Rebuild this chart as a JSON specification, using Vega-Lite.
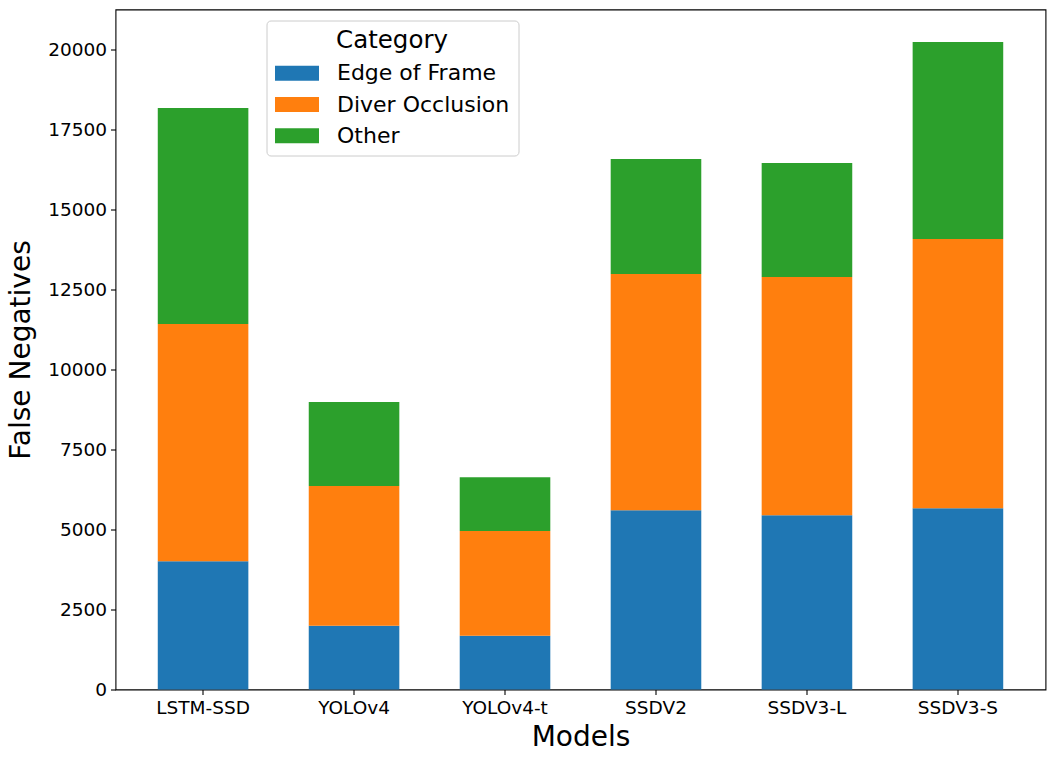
{
  "$schema": "https://vega.github.io/schema/vega-lite/v6.json",
  "width": 930,
  "height": 680,
  "autosize": {"type": "none"},
  "padding": {"left": 115.5, "top": 9.5, "right": 9.5, "bottom": 71.5},
  "background": "white",
  "config": {
    "font": "DejaVu Sans",
    "view": {"stroke": "black", "strokeWidth": 1.1},
    "axis": {
      "domain": false,
      "grid": false,
      "tickColor": "black",
      "tickWidth": 1.1,
      "tickSize": 5,
      "labelColor": "black",
      "labelFont": "DejaVu Sans",
      "labelFontSize": 18.5,
      "labelPadding": 4,
      "titleColor": "black",
      "titleFont": "DejaVu Sans",
      "titleFontSize": 28,
      "titleFontWeight": "normal"
    }
  },
  "data": {
    "values": [
      {"model": "LSTM-SSD", "category": "Edge of Frame", "count": 4010},
      {"model": "LSTM-SSD", "category": "Diver Occlusion", "count": 7406},
      {"model": "LSTM-SSD", "category": "Other", "count": 6750},
      {"model": "YOLOv4", "category": "Edge of Frame", "count": 1990},
      {"model": "YOLOv4", "category": "Diver Occlusion", "count": 4364},
      {"model": "YOLOv4", "category": "Other", "count": 2624},
      {"model": "YOLOv4-t", "category": "Edge of Frame", "count": 1677},
      {"model": "YOLOv4-t", "category": "Diver Occlusion", "count": 3271},
      {"model": "YOLOv4-t", "category": "Other", "count": 1686},
      {"model": "SSDV2", "category": "Edge of Frame", "count": 5603},
      {"model": "SSDV2", "category": "Diver Occlusion", "count": 7375},
      {"model": "SSDV2", "category": "Other", "count": 3594},
      {"model": "SSDV3-L", "category": "Edge of Frame", "count": 5447},
      {"model": "SSDV3-L", "category": "Diver Occlusion", "count": 7437},
      {"model": "SSDV3-L", "category": "Other", "count": 3563},
      {"model": "SSDV3-S", "category": "Edge of Frame", "count": 5666},
      {"model": "SSDV3-S", "category": "Diver Occlusion", "count": 8406},
      {"model": "SSDV3-S", "category": "Other", "count": 6156}
    ]
  },
  "transform": [
    {"calculate": "indexof(['Edge of Frame', 'Diver Occlusion', 'Other'], datum.category)", "as": "stack_order"}
  ],
  "mark": {"type": "bar", "strokeWidth": 0},
  "encoding": {
    "x": {
      "field": "model",
      "type": "nominal",
      "sort": ["LSTM-SSD", "YOLOv4", "YOLOv4-t", "SSDV2", "SSDV3-L", "SSDV3-S"],
      "title": "Models",
      "scale": {"paddingInner": 0.4, "paddingOuter": 0.28},
      "axis": {"labelAngle": 0, "titlePadding": 6}
    },
    "y": {
      "field": "count",
      "type": "quantitative",
      "stack": "zero",
      "title": "False Negatives",
      "scale": {"domain": [0, 21243], "nice": false},
      "axis": {
        "values": [0, 2500, 5000, 7500, 10000, 12500, 15000, 17500, 20000],
        "format": "d",
        "titlePadding": 12
      }
    },
    "order": {"field": "stack_order", "type": "quantitative", "sort": "ascending"},
    "color": {
      "field": "category",
      "type": "nominal",
      "sort": ["Edge of Frame", "Diver Occlusion", "Other"],
      "scale": {
        "domain": ["Edge of Frame", "Diver Occlusion", "Other"],
        "range": ["#1f77b4", "#ff7f0e", "#2ca02c"]
      },
      "legend": {
        "title": "Category",
        "orient": "none",
        "legendX": 151,
        "legendY": 11,
        "titleFont": "DejaVu Sans",
        "titleFontSize": 24.5,
        "titleFontWeight": "normal",
        "titleColor": "black",
        "titleAnchor": "middle",
        "titlePadding": 4.7,
        "labelFont": "DejaVu Sans",
        "labelFontSize": 22,
        "labelColor": "black",
        "labelOffset": 25,
        "labelLimit": 400,
        "symbolType": "M-1.4667,-0.5H1.4667V0.5H-1.4667Z",
        "symbolSize": 900,
        "symbolOffset": 7,
        "symbolStrokeWidth": 0,
        "symbolOpacity": 1,
        "rowPadding": 5.3,
        "padding": 8.5,
        "strokeColor": "#cccccc",
        "fillColor": "white",
        "cornerRadius": 4
      }
    }
  }
}
